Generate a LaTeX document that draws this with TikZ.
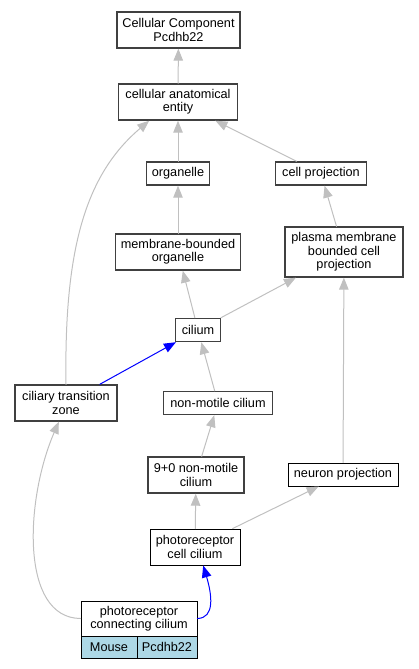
\documentclass[tikz,border=0pt]{standalone}
\usepackage{fontspec}
\setmainfont{Liberation Sans}
\usetikzlibrary{arrows.meta}
\definecolor{edgegray}{HTML}{C0C0C0}
\definecolor{boxgray}{HTML}{404040}
\definecolor{cellblue}{HTML}{ADD8E6}
\begin{document}
\begin{tikzpicture}[x=1pt,y=-1pt,line cap=round,
    term/.style={draw=boxgray,line width=1.4pt,fill=white,align=center,inner sep=0pt,
      font=\fontsize{12.7}{13.4}\selectfont},
    thinterm/.style={term,draw=black,line width=0.9pt},
    isa/.style={draw=edgegray,line width=1pt,-{Triangle[length=12pt,width=9.5pt]}},
    partof/.style={draw=blue,line width=1pt,-{Triangle[length=12pt,width=9.5pt]}}]
  \useasboundingbox (0,0) rectangle (419,669);
  \node[term,minimum width=123,minimum height=36] (ccp) at (178.5,30) {Cellular Component\\Pcdhb22};
  \node[term,minimum width=119,minimum height=36] (cae) at (178,102) {cellular anatomical\\entity};
  \node[term,minimum width=63,minimum height=23] (org) at (178,173.5) {organelle};
  \node[term,minimum width=91,minimum height=23] (cp) at (321,173.5) {cell projection};
  \node[term,minimum width=125,minimum height=36] (mbo) at (178,252) {membrane-bounded\\organelle};
  \node[term,minimum width=118,minimum height=50] (pmbcp) at (344,252) {plasma membrane\\bounded cell\\projection};
  \node[term,minimum width=45,minimum height=23] (cil) at (198,330) {cilium};
  \node[term,minimum width=102,minimum height=36] (ctz) at (66,403) {ciliary transition\\zone};
  \node[term,minimum width=109,minimum height=23] (nmc) at (218,403) {non-motile cilium};
  \node[term,minimum width=96,minimum height=36] (nine) at (196,475) {9+0 non-motile\\cilium};
  \node[thinterm,minimum width=110,minimum height=23] (np) at (343,474.5) {neuron projection};
  \node[thinterm,minimum width=90,minimum height=36] (prcc) at (195,547) {photoreceptor\\cell cilium};
  \node[thinterm,minimum width=116,minimum height=35] (pcc) at (139,618.5) {photoreceptor\\connecting cilium};
  \node[thinterm,fill=cellblue,minimum width=56,minimum height=22] (mouse) at (109,647) {Mouse};
  \node[thinterm,fill=cellblue,minimum width=60,minimum height=22] (gene) at (167,647) {Pcdhb22};

  \draw[isa] (cae) -- (ccp);
  \draw[isa] (org) -- (cae);
  \draw[isa] (cp) -- (cae);
  \draw[isa] (mbo) -- (org);
  \draw[isa] (pmbcp) -- (cp);
  \draw[isa] (cil) -- (mbo);
  \draw[isa] (cil) -- (pmbcp);
  \draw[partof] (ctz) -- (cil);
  \draw[isa] (ctz.north) .. controls (64,250) and (85,175) .. (cae.213);
  \draw[isa] (nmc) -- (cil);
  \draw[isa] (nine) -- (nmc);
  \draw[isa] (np) -- (pmbcp);
  \draw[isa] (prcc) -- (nine);
  \draw[isa] (prcc) -- (np);
  \draw[partof] (pcc.east) .. controls (215,618) and (212,595) .. (prcc.-66);
  \draw[isa] (pcc.west) .. controls (20,618) and (25,500) .. (ctz.-111);
\end{tikzpicture}
\end{document}
